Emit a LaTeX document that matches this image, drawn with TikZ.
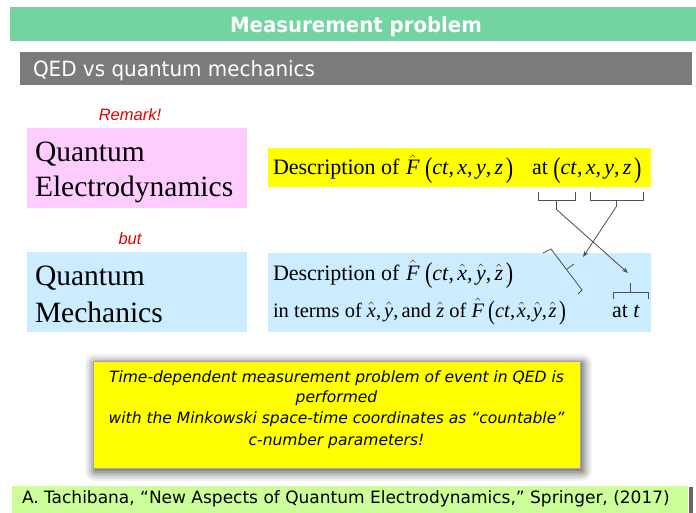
\documentclass[tikz,border=0pt]{standalone}
\usepackage{fontspec}
\usepackage{graphicx}
\setmainfont{Liberation Serif}
\newfontfamily\tah{DejaVu Sans}
\newfontfamily\arl{Liberation Sans}
\usetikzlibrary{arrows.meta}
\definecolor{titlegreen}{RGB}{114,212,160}
\definecolor{bargray}{RGB}{123,123,123}
\definecolor{qedpink}{RGB}{255,204,255}
\definecolor{qmblue}{RGB}{204,236,255}
\definecolor{hiyellow}{RGB}{255,255,0}
\definecolor{refgreen}{RGB}{204,255,153}
\definecolor{remred}{RGB}{230,0,0}
\definecolor{linkgray}{RGB}{80,80,80}
\newcommand\hv[1]{$\hat{\mbox{\itshape #1}}$}
\newcommand\iv[1]{\textit{#1}}
\newcommand\lp{\raisebox{-0.12em}{\scalebox{1}[1.3]{(}}}
\newcommand\rp{\hspace{0.12em}\raisebox{-0.12em}{\scalebox{1}[1.3]{)}}}
\newcommand\cm{,\hspace{0.15em}}
\newcommand\cmt{,\hspace{0.08em}}
\begin{document}
\begin{tikzpicture}[x=1pt,y=-1pt,
  lbl/.style={inner sep=0pt,outer sep=0pt,anchor=base west},
  clbl/.style={inner sep=0pt,outer sep=0pt,anchor=base},
  bigserif/.style={font=\fontsize{29.5}{34}\selectfont},
  medserif/.style={font=\fontsize{22}{26}\selectfont},
  smlserif/.style={font=\fontsize{20.5}{24}\selectfont},
  redlbl/.style={clbl,text=remred,font=\arl\itshape\fontsize{16.5}{19}\selectfont},
  msgline/.style={clbl,font=\tah\itshape\fontsize{15.5}{19}\selectfont},
  brk/.style={draw=linkgray,line width=0.8pt},
  link/.style={draw=linkgray,line width=0.8pt,-{Stealth[length=6pt,width=4.5pt]}}]
\useasboundingbox (0,0) rectangle (696,513);
\fill[white] (0,0) rectangle (696,513);

% title bar
\fill[titlegreen] (10,7) rectangle (696,41);
\node[clbl,text=white,font=\tah\bfseries\fontsize{21}{25}\selectfont] (title) at (356,33) {\scalebox{0.94}[1]{Measurement problem}};

% subtitle bar
\fill[bargray] (20,52) rectangle (692,85);
\node[lbl,text=white,font=\tah\fontsize{21}{25}\selectfont] (sub) at (33,77) {\scalebox{0.95}[1]{QED vs quantum mechanics}};

% left boxes
\node[redlbl] (remark) at (130,121) {Remark!};
\fill[qedpink] (27,128) rectangle (247,208);
\node[lbl,bigserif] (qed1) at (35,162) {Quantum};
\node[lbl,bigserif] (qed2) at (35,197) {Electrodynamics};

\node[redlbl] (but) at (130,244) {but};
\fill[qmblue] (27,252) rectangle (247,332);
\node[lbl,bigserif] (qm1) at (35,285) {Quantum};
\node[lbl,bigserif] (qm2) at (35,322) {Mechanics};

% right boxes
\fill[hiyellow] (268,148) rectangle (651,187);
\node[lbl,medserif] (descqed) at (273,175) {Description of\hspace{0.3em}\hv{F}\hspace{0.25em}\lp\iv{ct}\cm\iv{x}\cm\iv{y}\cm\iv{z}\rp};
\node[lbl,medserif] (atqed) at (532,175) {at \lp\iv{ct}\cm\iv{x}\cm\iv{y}\cm\iv{z}\rp};

\fill[qmblue] (268,253) rectangle (651,332);
\node[lbl,medserif] (descqm) at (273,280) {Description of\hspace{0.3em}\hv{F}\hspace{0.25em}\lp\iv{ct}\cm\hv{x}\cm\hv{y}\cm\hv{z}\rp};
\node[lbl,smlserif] (termsqm) at (273,317) {in terms of \hv{x}\cm\hv{y}\cm and \hv{z} of \hv{F}\hspace{0.2em}\lp\iv{ct}\cmt\hv{x}\cmt\hv{y}\cmt\hv{z}\rp};
\node[lbl,medserif] (attqm) at (612,317) {at \iv{t}};

% brackets
\draw[brk] (538,192) -- (538,200) -- (575,200) -- (575,192);
\draw[brk] (556,200) -- (556,209) coordinate (tickA);
\draw[brk] (590,192) -- (590,200) -- (643,200) -- (643,192);
\draw[brk] (616,200) -- (616,207) coordinate (tickB);
\draw[brk] (543,253) -- (551,249) -- (582,290) -- (578,294);
\draw[brk] (566.5,269.5) -- (574,264);
\coordinate (endB) at (583,257);
\draw[brk] (613,299) -- (613,292) -- (648,292) -- (648,299);
\draw[brk] (630,292) -- (630,283);
\coordinate (endA) at (628,273);

\draw[link] (tickA) -- (endA);
\draw[link] (tickB) -- (endB);

% message box with blurred shadow
\foreach \r/\o in {10/0.05,8/0.06,6/0.08,4/0.10,2/0.12,0/0.14}
  \fill[black,opacity=\o,rounded corners=\r pt] ({95-\r},{364-\r}) rectangle ({582+\r},{471+\r});
\fill[hiyellow] (93,361) rectangle (580,468);
\draw[gray!70,line width=0.4pt] (93,361) rectangle (580,468);
\node[msgline] (m1) at (336.5,382) {Time-dependent measurement problem of event in QED is};
\node[msgline] (m2) at (336.5,402) {performed};
\node[msgline] (m3) at (336.5,423.5) {with the Minkowski space-time coordinates as “countable”};
\node[msgline] (m4) at (336.5,445) {c-number parameters!};

% reference bar
\fill[refgreen] (12,486) rectangle (688,513);
\fill[gray!80!black] (689,487) rectangle (693,513);
\node[lbl,font=\tah\fontsize{17}{20}\selectfont] (ref) at (22,503.5) {A. Tachibana, “New Aspects of Quantum Electrodynamics,” Springer, (2017)};
\end{tikzpicture}
\end{document}
